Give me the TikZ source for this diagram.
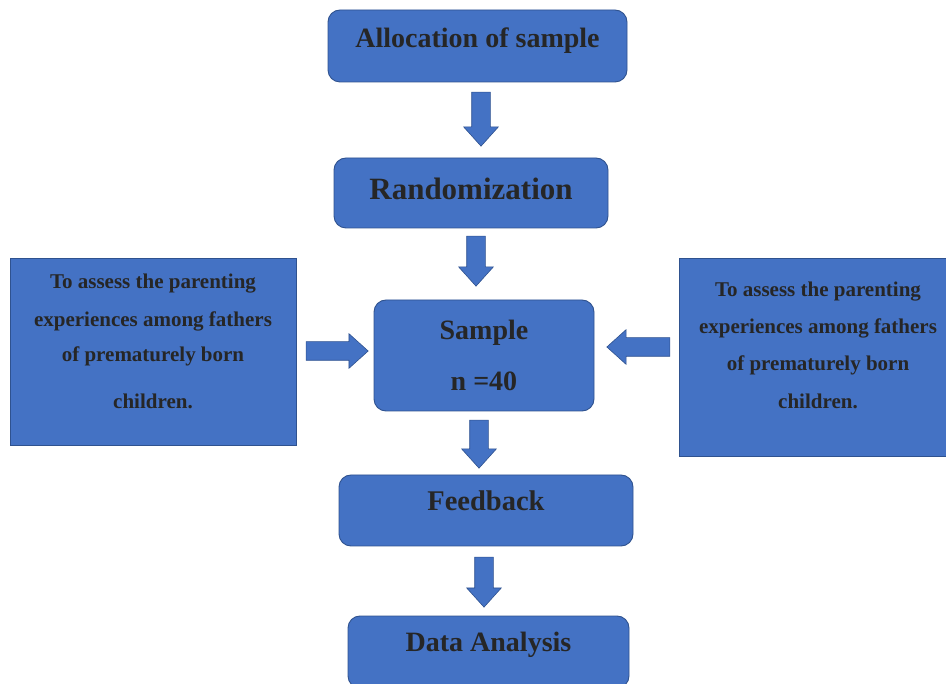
\documentclass[tikz,border=0pt]{standalone}
\usepackage{fontspec}
\setmainfont{Liberation Serif}
\usetikzlibrary{shapes.arrows}
\definecolor{boxblue}{HTML}{4472C4}
\definecolor{boxedge}{HTML}{2F528F}
\definecolor{inkgrey}{HTML}{262626}
\tikzset{
  mainbox/.style={draw=boxedge, fill=boxblue, line width=0.9pt, rounded corners=12pt, text=inkgrey, inner sep=0pt},
  sidebox/.style={draw=boxedge, fill=boxblue, line width=0.9pt, inner sep=0pt},
  sidetext/.style={text=inkgrey, font=\fontsize{21}{37}\selectfont\bfseries, align=center, inner sep=0pt, anchor=base},
  blockarrow/.style={single arrow, draw=boxedge, fill=boxblue, line width=0.6pt, inner sep=9pt, single arrow head extend=8pt, single arrow tip angle=84, single arrow head indent=0pt},
}
\begin{document}
\begin{tikzpicture}[x=1pt,y=-1pt]
\useasboundingbox (0,0) rectangle (946,684);
\clip (0,0) rectangle (946,684);
\node[mainbox, minimum width=299pt, minimum height=72pt, text height=15pt, text depth=12.5pt, font=\fontsize{28}{34}\selectfont\bfseries] (alloc) at (477.5,46) {Allocation of sample};
\node[mainbox, minimum width=274pt, minimum height=70pt, text height=20pt, text depth=7.6pt, font=\fontsize{31}{37}\selectfont\bfseries] (rand) at (471,193) {Randomization};
\node[mainbox, minimum width=220pt, minimum height=111pt, align=center, font=\fontsize{28}{51}\selectfont\bfseries] (sample) at (484,355.5) {Sample\\n =40};
\node[mainbox, minimum width=294pt, minimum height=71pt, text height=13pt, text depth=13pt, font=\fontsize{28.5}{34}\selectfont\bfseries] (feed) at (486,510.5) {Feedback};
\node[mainbox, minimum width=281pt, minimum height=72pt, text height=12.5pt, text depth=14pt, font=\fontsize{28}{34}\selectfont\bfseries] (data) at (488.5,652) {Data Analysis};
\node[sidebox, minimum width=286pt, minimum height=187pt] (lbox) at (153,351.5) {};
\node[sidetext] (ltext) at (153,409) {To assess the parenting\\[1pt]experiences among fathers\\[-2pt]of prematurely born\\[10pt]children.};
\node[sidebox, minimum width=272pt, minimum height=198pt] (rbox) at (815,357) {};
\node[sidetext] (rtext) at (818,409) {To assess the parenting\\experiences among fathers\\of prematurely born\\[1pt]children.};
\node[blockarrow, minimum height=54pt, rotate=-90] (arrA) at (481,114) {};
\node[blockarrow, minimum height=50pt, rotate=-90] (arrB) at (476,256) {};
\node[blockarrow, minimum height=48pt, rotate=-90] (arrC) at (479,439) {};
\node[blockarrow, minimum height=50pt, rotate=-90] (arrD) at (484,577) {};
\node[blockarrow, minimum height=62pt] (arrL) at (332,351) {};
\node[blockarrow, minimum height=63pt, rotate=180] (arrR) at (643.5,347) {};
\end{tikzpicture}
\end{document}
